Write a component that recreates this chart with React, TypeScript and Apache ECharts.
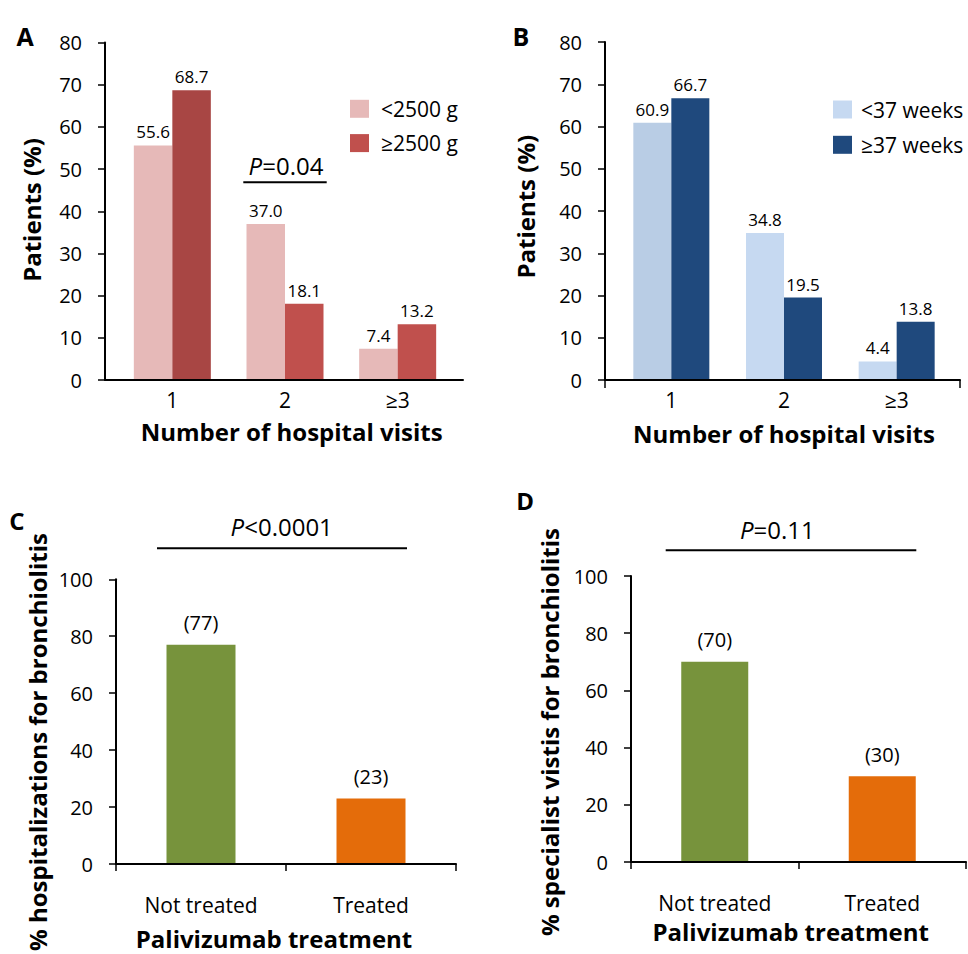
import React, { useEffect, useRef } from 'react';
import * as echarts from 'echarts';

// ---- data ----
const visitCategories = ['1', '2', '≥3'];
const birthWeightLow = [55.6, 37.0, 7.4];
const birthWeightNormal = [68.7, 18.1, 13.2];
const gestAgePreterm = [60.9, 34.8, 4.4];
const gestAgeTerm = [66.7, 19.5, 13.8];
const treatmentCategories = ['Not treated', 'Treated'];
const hospitalizationPct = [77, 23];
const specialistPct = [70, 30];
const visitAxisMax = 80;
const visitAxisStep = 10;
const bronchAxisMax = 100;
const bronchAxisStep = 20;
const seriesNames = ['<2500 g', '≥2500 g', '<37 weeks', '≥37 weeks'];

const FONT = 'Open Sans';
const BLACK = '#000';

function frameX(gridIndex: number, data: string[], ticks: boolean, onlyEnds: boolean) {
  return {
    type: 'category', gridIndex, data, boundaryGap: true, z: 5,
    axisLine: { show: true, lineStyle: { color: BLACK, width: 2 } },
    axisTick: {
      show: ticks, length: 8, lineStyle: { color: BLACK, width: 1.5 },
      interval: onlyEnds ? (i: number) => i === 0 : 0,
    },
    axisLabel: { show: false },
    splitLine: { show: false },
  };
}

function frameY(gridIndex: number, max: number, step: number) {
  return {
    type: 'value', gridIndex, min: 0, max, interval: step, z: 5,
    axisLine: { show: true, lineStyle: { color: BLACK, width: 2 } },
    axisTick: { show: true, length: 7, lineStyle: { color: BLACK, width: 1.5 } },
    axisLabel: { fontFamily: FONT, fontSize: 20, color: BLACK, margin: 23 },
    splitLine: { show: false },
  };
}

function barsX(gridIndex: number, data: string[]) {
  return {
    type: 'category', gridIndex, data, boundaryGap: true,
    axisLine: { show: false }, axisTick: { show: false },
    axisLabel: { fontFamily: FONT, fontSize: 21, color: BLACK, margin: 9 },
    splitLine: { show: false },
  };
}

function hiddenY(gridIndex: number, max: number, step: number) {
  return { type: 'value', gridIndex, min: 0, max, interval: step, show: false, splitLine: { show: false } };
}

function title(text: string, x: number, y: number, vertical: boolean, size = 24) {
  return {
    type: 'text', x, y, rotation: vertical ? Math.PI / 2 : 0, z: 10,
    style: {
      text, fontFamily: FONT, fontSize: size, fontWeight: 'bold', fill: BLACK,
      textAlign: 'center', textVerticalAlign: 'middle',
    },
  };
}

function pValue(prefixOp: string, x: number, y: number, x1: number, x2: number, ly: number) {
  return [
    {
      type: 'text', x, y, z: 10,
      style: {
        text: '{i|P}' + prefixOp, fontFamily: FONT, fontSize: 24, fill: BLACK,
        textAlign: 'center', textVerticalAlign: 'middle',
        rich: { i: { fontStyle: 'italic', fontFamily: FONT, fontSize: 24, fill: BLACK } },
      },
    },
    { type: 'line', z: 10, shape: { x1, y1: ly, x2, y2: ly }, style: { stroke: BLACK, lineWidth: 2 } },
  ];
}

const decimalLabel = {
  show: true, position: 'top', distance: 5, fontFamily: FONT, fontSize: 17, color: BLACK,
  formatter: (p: any) => Number(p.value).toFixed(1),
};
const parenLabel = {
  show: true, position: 'top', distance: 12, fontFamily: FONT, fontSize: 20, color: BLACK,
  formatter: (p: any) => '(' + p.value + ')',
};

export default function App() {
  const ref = useRef<HTMLDivElement>(null);
  useEffect(() => {
    document.body.style.margin = '0';
    if (!ref.current) return;
    const chart = echarts.init(ref.current, undefined, { renderer: 'svg' });
    const option: any = {
      animation: false,
      backgroundColor: '#fff',
      textStyle: { fontFamily: FONT },
      grid: [
        { left: 105, top: 42.5, width: 358, height: 337.5 },
        { left: 116, top: 42.5, width: 338, height: 337.5 },
        { left: 605, top: 42, width: 355, height: 338 },
        { left: 615, top: 42, width: 338, height: 338 },
        { left: 116, top: 579.3, width: 340, height: 284.7 },
        { left: 631, top: 576, width: 335, height: 286 },
      ],
      xAxis: [
        frameX(0, visitCategories, false, false),
        barsX(1, visitCategories),
        frameX(2, visitCategories, true, true),
        barsX(3, visitCategories),
        {
          ...frameX(4, treatmentCategories, true, false),
          axisTick: { show: true, length: 7, lineStyle: { color: BLACK, width: 1.5 } },
          axisLabel: { show: true, fontFamily: FONT, fontSize: 21, color: BLACK, margin: 30 },
        },
        {
          ...frameX(5, treatmentCategories, true, false),
          axisTick: { show: true, length: 7, lineStyle: { color: BLACK, width: 1.5 } },
          axisLabel: { show: true, fontFamily: FONT, fontSize: 21, color: BLACK, margin: 30 },
        },
      ],
      yAxis: [
        frameY(0, visitAxisMax, visitAxisStep),
        hiddenY(1, visitAxisMax, visitAxisStep),
        frameY(2, visitAxisMax, visitAxisStep),
        hiddenY(3, visitAxisMax, visitAxisStep),
        frameY(4, bronchAxisMax, bronchAxisStep),
        frameY(5, bronchAxisMax, bronchAxisStep),
      ],
      legend: [
        {
          data: [seriesNames[0], seriesNames[1]], orient: 'vertical', left: 350, top: 98.3, padding: 0,
          itemWidth: 19, itemHeight: 18, itemGap: 13.3, icon: 'rect',
          textStyle: { fontFamily: FONT, fontSize: 21, color: BLACK, lineHeight: 18, padding: [0, 0, 0, 7] },
        },
        {
          data: [seriesNames[2], seriesNames[3]], orient: 'vertical', left: 833, top: 99, padding: 0,
          itemWidth: 19, itemHeight: 18, itemGap: 14.3, icon: 'rect',
          textStyle: { fontFamily: FONT, fontSize: 21, color: BLACK, lineHeight: 18, padding: [0, 0, 0, 4] },
        },
      ],
      series: [
        {
          name: seriesNames[0], type: 'bar', xAxisIndex: 1, yAxisIndex: 1, barWidth: 38.5, barGap: '0%',
          itemStyle: { color: '#E6B9B8' }, label: decimalLabel, data: birthWeightLow,
        },
        {
          name: seriesNames[1], type: 'bar', xAxisIndex: 1, yAxisIndex: 1, barWidth: 38.5, barGap: '0%',
          itemStyle: { color: '#C0504D' }, label: decimalLabel,
          data: birthWeightNormal.map((v, i) => (i === 0 ? { value: v, itemStyle: { color: '#A84644' } } : v)),
        },
        {
          name: seriesNames[2], type: 'bar', xAxisIndex: 3, yAxisIndex: 3, barWidth: 38, barGap: '0%',
          itemStyle: { color: '#C6D9F1' }, label: decimalLabel,
          data: gestAgePreterm.map((v, i) => (i === 0 ? { value: v, itemStyle: { color: '#B9CDE5' } } : v)),
        },
        {
          name: seriesNames[3], type: 'bar', xAxisIndex: 3, yAxisIndex: 3, barWidth: 38, barGap: '0%',
          itemStyle: { color: '#1F497D' }, label: decimalLabel, data: gestAgeTerm,
        },
        {
          name: 'hospitalizations', type: 'bar', xAxisIndex: 4, yAxisIndex: 4, barWidth: 69,
          label: parenLabel,
          data: hospitalizationPct.map((v, i) => ({ value: v, itemStyle: { color: i === 0 ? '#77933C' : '#E46C0A' } })),
        },
        {
          name: 'specialist', type: 'bar', xAxisIndex: 5, yAxisIndex: 5, barWidth: 67,
          label: parenLabel,
          data: specialistPct.map((v, i) => ({ value: v, itemStyle: { color: i === 0 ? '#77933C' : '#E46C0A' } })),
        },
      ],
      graphic: [
        title('A', 25, 36, false, 25),
        title('B', 521, 36, false, 25),
        title('C', 17, 520, false, 24),
        title('D', 525, 500, false, 24),
        title('Patients (%)', 31.7, 210, true),
        title('Number of hospital visits', 291.7, 431.7, false),
        title('Patients (%)', 525.7, 206.7, true),
        title('Number of hospital visits', 784, 433.3, false),
        title('% hospitalizations for bronchiolitis', 37, 742, true),
        title('Palivizumab treatment', 274, 938, false),
        title('% specialist vistis for bronchiolitis', 549, 732, true),
        title('Palivizumab treatment', 790.7, 931.7, false),
        ...pValue('=0.04', 286, 165.7, 243.3, 326.7, 182.3),
        ...pValue('<0.0001', 281.7, 526.7, 157, 407, 548.3),
        ...pValue('=0.11', 777.3, 529.3, 665.7, 916.3, 550.3),
      ],
    };
    chart.setOption(option);
    return () => chart.dispose();
  }, []);
  return <div ref={ref} style={{ width: 968, height: 954 }} />;
}
